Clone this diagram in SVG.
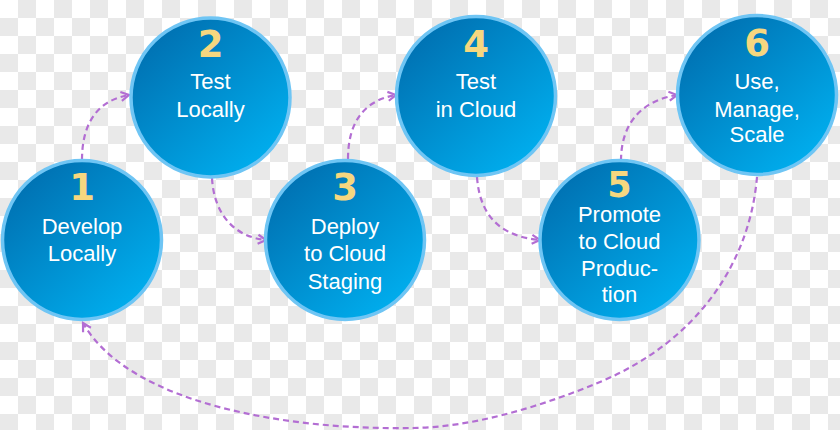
<svg xmlns="http://www.w3.org/2000/svg" width="840" height="430" viewBox="0 0 840 430">
<defs>
<pattern id="checker" x="0" y="0" width="36" height="36" patternUnits="userSpaceOnUse">
<rect width="36" height="36" fill="#ffffff"/>
<rect x="18" y="0" width="18" height="18" fill="#e9e9e9"/>
<rect x="0" y="18" width="18" height="18" fill="#e9e9e9"/>
</pattern>
<linearGradient id="ball" x1="0.15" y1="0.1" x2="0.85" y2="0.9">
<stop offset="0" stop-color="#0071b2"/>
<stop offset="1" stop-color="#00aeee"/>
</linearGradient>
<marker id="arr" viewBox="0 0 12 12" refX="10" refY="6" markerWidth="12" markerHeight="12" markerUnits="userSpaceOnUse" orient="auto">
<path d="M2,1.5 L10,6 L2,10.5" fill="none" stroke="#b36ed3" stroke-width="2.2" stroke-linejoin="miter"/>
</marker>
</defs>
<style>
.node circle{fill:url(#ball);stroke:#6fc5f4;stroke-width:3.5}
.num{font-family:"DejaVu Sans",Verdana,sans-serif;font-weight:bold;font-size:37px;fill:#f6d77f;text-anchor:middle}
.lbl{font-family:"Liberation Sans",Arial,sans-serif;font-size:22px;fill:#ffffff;text-anchor:middle}
.conn path{fill:none;stroke:#b36ed3;stroke-width:2.2;stroke-dasharray:6 4;marker-end:url(#arr)}
</style>
<rect width="840" height="430" fill="url(#checker)"/>
<g id="connectors" class="conn">
<path d="M82,160 C82,120 100,100 129,95"/>
<path d="M212,178 C214,215 235,237 266,240"/>
<path d="M348,159 C348,120 366,100 396,95"/>
<path d="M477,177 C480,220 505,237 540,240"/>
<path d="M621,161 C621,120 645,100 677,95"/>
<path d="M757,177 C750,260 700,340 600,382 C540,407 470,428 410,428 C290,430 130,405 83,323"/>
</g>
<g id="node1" class="node">
<circle cx="82" cy="240" r="79.5"/>
<text class="num" x="82" y="200">1</text>
<text class="lbl" x="82" y="234">Develop</text>
<text class="lbl" x="82" y="261">Locally</text>
</g>
<g id="node2" class="node">
<circle cx="210.5" cy="97.5" r="79.5"/>
<text class="num" x="210.5" y="57">2</text>
<text class="lbl" x="210.5" y="89">Test</text>
<text class="lbl" x="210.5" y="117">Locally</text>
</g>
<g id="node3" class="node">
<circle cx="345" cy="240" r="79.5"/>
<text class="num" x="345" y="200">3</text>
<text class="lbl" x="345" y="234">Deploy</text>
<text class="lbl" x="345" y="261">to Cloud</text>
<text class="lbl" x="345" y="289">Staging</text>
</g>
<g id="node4" class="node">
<circle cx="476" cy="96" r="79.5"/>
<text class="num" x="476" y="57">4</text>
<text class="lbl" x="476" y="89">Test</text>
<text class="lbl" x="476" y="117">in Cloud</text>
</g>
<g id="node5" class="node">
<circle cx="619.5" cy="240" r="79.5"/>
<text class="num" x="619.5" y="197" style="font-size:35px">5</text>
<text class="lbl" x="619.5" y="222">Promote</text>
<text class="lbl" x="619.5" y="249">to Cloud</text>
<text class="lbl" x="619.5" y="276">Produc-</text>
<text class="lbl" x="619.5" y="302">tion</text>
</g>
<g id="node6" class="node">
<circle cx="757" cy="95" r="79.5"/>
<text class="num" x="757" y="56">6</text>
<text class="lbl" x="757" y="89">Use,</text>
<text class="lbl" x="757" y="117">Manage,</text>
<text class="lbl" x="757" y="142">Scale</text>
</g>
</svg>
